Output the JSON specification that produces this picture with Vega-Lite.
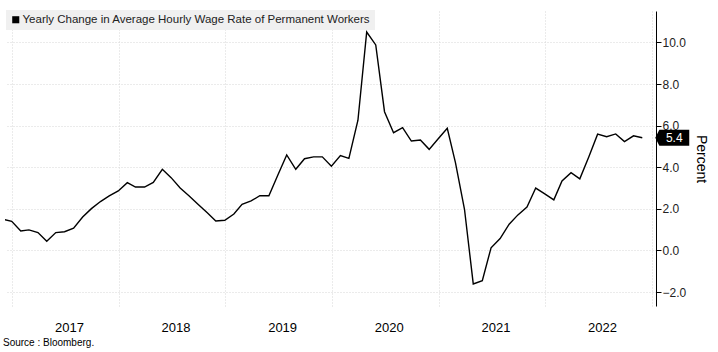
{
  "$schema": "https://vega.github.io/schema/vega-lite/v6.json",
  "width": 651,
  "height": 295,
  "padding": {"left": 3, "top": 10, "right": 0, "bottom": 0},
  "background": "white",
  "title": {"text": "Source : Bloomberg.", "orient": "bottom", "anchor": "start", "frame": "bounds", "fontSize": 10, "font": "Liberation Sans", "fontWeight": "normal", "color": "#000", "offset": 4, "dx": -2},
  "data": {"values": [
    {"date": "2016-11-30", "value": 1.50},
    {"date": "2016-12-31", "value": 1.40},
    {"date": "2017-01-31", "value": 0.94},
    {"date": "2017-02-28", "value": 0.99},
    {"date": "2017-03-31", "value": 0.86},
    {"date": "2017-04-30", "value": 0.44},
    {"date": "2017-05-31", "value": 0.86},
    {"date": "2017-06-30", "value": 0.90},
    {"date": "2017-07-31", "value": 1.07},
    {"date": "2017-08-31", "value": 1.61},
    {"date": "2017-09-30", "value": 2.01},
    {"date": "2017-10-31", "value": 2.35},
    {"date": "2017-11-30", "value": 2.62},
    {"date": "2017-12-31", "value": 2.86},
    {"date": "2018-01-31", "value": 3.26},
    {"date": "2018-02-28", "value": 3.05},
    {"date": "2018-03-31", "value": 3.05},
    {"date": "2018-04-30", "value": 3.27},
    {"date": "2018-05-31", "value": 3.90},
    {"date": "2018-06-30", "value": 3.50},
    {"date": "2018-07-31", "value": 3.00},
    {"date": "2018-08-31", "value": 2.62},
    {"date": "2018-09-30", "value": 2.22},
    {"date": "2018-10-31", "value": 1.82},
    {"date": "2018-11-30", "value": 1.42},
    {"date": "2018-12-31", "value": 1.45},
    {"date": "2019-01-31", "value": 1.75},
    {"date": "2019-02-28", "value": 2.22},
    {"date": "2019-03-31", "value": 2.38},
    {"date": "2019-04-30", "value": 2.63},
    {"date": "2019-05-31", "value": 2.63},
    {"date": "2019-06-30", "value": 3.60},
    {"date": "2019-07-31", "value": 4.59},
    {"date": "2019-08-31", "value": 3.90},
    {"date": "2019-09-30", "value": 4.41},
    {"date": "2019-10-31", "value": 4.50},
    {"date": "2019-11-30", "value": 4.50},
    {"date": "2019-12-31", "value": 4.05},
    {"date": "2020-01-31", "value": 4.56},
    {"date": "2020-02-29", "value": 4.43},
    {"date": "2020-03-31", "value": 6.26},
    {"date": "2020-04-30", "value": 10.50},
    {"date": "2020-05-31", "value": 9.88},
    {"date": "2020-06-30", "value": 6.67},
    {"date": "2020-07-31", "value": 5.66},
    {"date": "2020-08-31", "value": 5.90},
    {"date": "2020-09-30", "value": 5.26},
    {"date": "2020-10-31", "value": 5.31},
    {"date": "2020-11-30", "value": 4.86},
    {"date": "2020-12-31", "value": 5.37},
    {"date": "2021-01-31", "value": 5.87},
    {"date": "2021-02-28", "value": 4.22},
    {"date": "2021-03-31", "value": 1.98},
    {"date": "2021-04-30", "value": -1.61},
    {"date": "2021-05-31", "value": -1.45},
    {"date": "2021-06-30", "value": 0.13},
    {"date": "2021-07-31", "value": 0.57},
    {"date": "2021-08-31", "value": 1.26},
    {"date": "2021-09-30", "value": 1.71},
    {"date": "2021-10-31", "value": 2.09},
    {"date": "2021-11-30", "value": 3.00},
    {"date": "2021-12-31", "value": 2.72},
    {"date": "2022-01-31", "value": 2.43},
    {"date": "2022-02-28", "value": 3.34},
    {"date": "2022-03-31", "value": 3.74},
    {"date": "2022-04-30", "value": 3.44},
    {"date": "2022-05-31", "value": 4.50},
    {"date": "2022-06-30", "value": 5.59},
    {"date": "2022-07-31", "value": 5.47},
    {"date": "2022-08-31", "value": 5.60},
    {"date": "2022-09-30", "value": 5.23},
    {"date": "2022-10-31", "value": 5.51},
    {"date": "2022-11-30", "value": 5.42}
  ]},
  "layer": [
    {
      "mark": {"type": "line", "color": "#000", "strokeWidth": 1.4, "clip": true},
      "encoding": {
        "x": {
          "field": "date", "type": "temporal",
          "scale": {"type": "utc", "domain": [{"year": 2016, "month": 12, "date": 8, "utc": true}, {"year": 2023, "month": 1, "date": 16, "utc": true}]},
          "axis": {
            "values": [
              {"year": 2017, "month": 1, "date": 1, "utc": true},
              {"year": 2018, "month": 1, "date": 1, "utc": true},
              {"year": 2019, "month": 1, "date": 1, "utc": true},
              {"year": 2020, "month": 1, "date": 1, "utc": true},
              {"year": 2021, "month": 1, "date": 1, "utc": true},
              {"year": 2022, "month": 1, "date": 1, "utc": true},
              {"year": 2023, "month": 1, "date": 1, "utc": true}
            ],
            "labelExpr": "utcyear(datum.value) >= 2023 ? '' : utcFormat(datum.value, '%Y')",
            "labelOffset": 57,
            "labelPadding": 15,
            "labelFontSize": 13,
            "labelFont": "Liberation Sans",
            "labelColor": "#000",
            "labelOverlap": false,
            "labelFlush": false,
            "labelBound": false,
            "ticks": false,
            "domain": false,
            "grid": true,
            "gridColor": "#d6d6d6",
            "gridDash": [1, 2],
            "title": null
          }
        },
        "y": {
          "field": "value", "type": "quantitative",
          "scale": {"domain": [-2.67, 11.51], "nice": false, "zero": false},
          "axis": {
            "orient": "right",
            "values": [-2, -1, 0, 1, 2, 3, 4, 5, 6, 7, 8, 9, 10, 11],
            "labelExpr": "datum.value % 2 === 0 && datum.value <= 10 ? format(datum.value, '.1f') : ''",
            "tickSize": {"condition": {"test": "datum.value % 2 === 0", "value": 5}, "value": 3},
            "tickColor": "#000",
            "domainColor": "#000",
            "grid": true,
            "gridOpacity": {"condition": {"test": "datum.value % 2 === 0 && datum.value <= 10", "value": 1}, "value": 0},
            "gridColor": "#d6d6d6",
            "gridDash": [1, 2],
            "labelFontSize": 12,
            "labelFont": "Liberation Sans",
            "labelColor": "#222",
            "labelPadding": 1,
            "title": "Percent",
            "titleAngle": 90,
            "titleFontSize": 14,
            "titleFont": "Liberation Sans",
            "titleFontWeight": "normal",
            "titleColor": "#000",
            "titlePadding": 8
          }
        },
        "color": {
          "datum": "Yearly Change in Average Hourly Wage Rate of Permanent Workers",
          "scale": {"range": ["#000000"]},
          "legend": {
            "orient": "none",
            "legendX": 1,
            "legendY": -1,
            "title": null,
            "fillColor": "#f0f0f0",
            "padding": 4,
            "symbolType": "square",
            "symbolSize": 50,
            "symbolOffset": 0,
            "labelOffset": 1,
            "labelFontSize": 11.5,
            "labelFont": "Liberation Sans",
            "labelColor": "#222",
            "labelLimit": 500,
            "encode": {"symbols": {"update": {"fill": {"value": "#000"}, "stroke": {"value": "#000"}, "strokeWidth": {"value": 0}}}}
          }
        }
      }
    },
    {
      "transform": [
        {"joinaggregate": [{"op": "max", "field": "date", "as": "maxd"}]},
        {"filter": "+toDate(datum.date) == +toDate(datum.maxd)"}
      ],
      "mark": {"type": "point", "shape": "M -1 0 L -0.76 -0.47 L 1 -0.47 L 1 0.47 L -0.76 0.47 Z", "size": 1156, "filled": true, "color": "#000", "opacity": 1, "xOffset": 30},
      "encoding": {
        "x": {"field": "date", "type": "temporal"},
        "y": {"field": "value", "type": "quantitative"}
      }
    },
    {
      "transform": [
        {"joinaggregate": [{"op": "max", "field": "date", "as": "maxd"}]},
        {"filter": "+toDate(datum.date) == +toDate(datum.maxd)"}
      ],
      "mark": {"type": "text", "color": "#fff", "fontSize": 12, "font": "Liberation Sans", "xOffset": 32, "align": "center", "baseline": "middle"},
      "encoding": {
        "x": {"field": "date", "type": "temporal"},
        "y": {"field": "value", "type": "quantitative"},
        "text": {"field": "value", "type": "quantitative", "format": ".1f"}
      }
    }
  ],
  "config": {"view": {"stroke": null}}
}
